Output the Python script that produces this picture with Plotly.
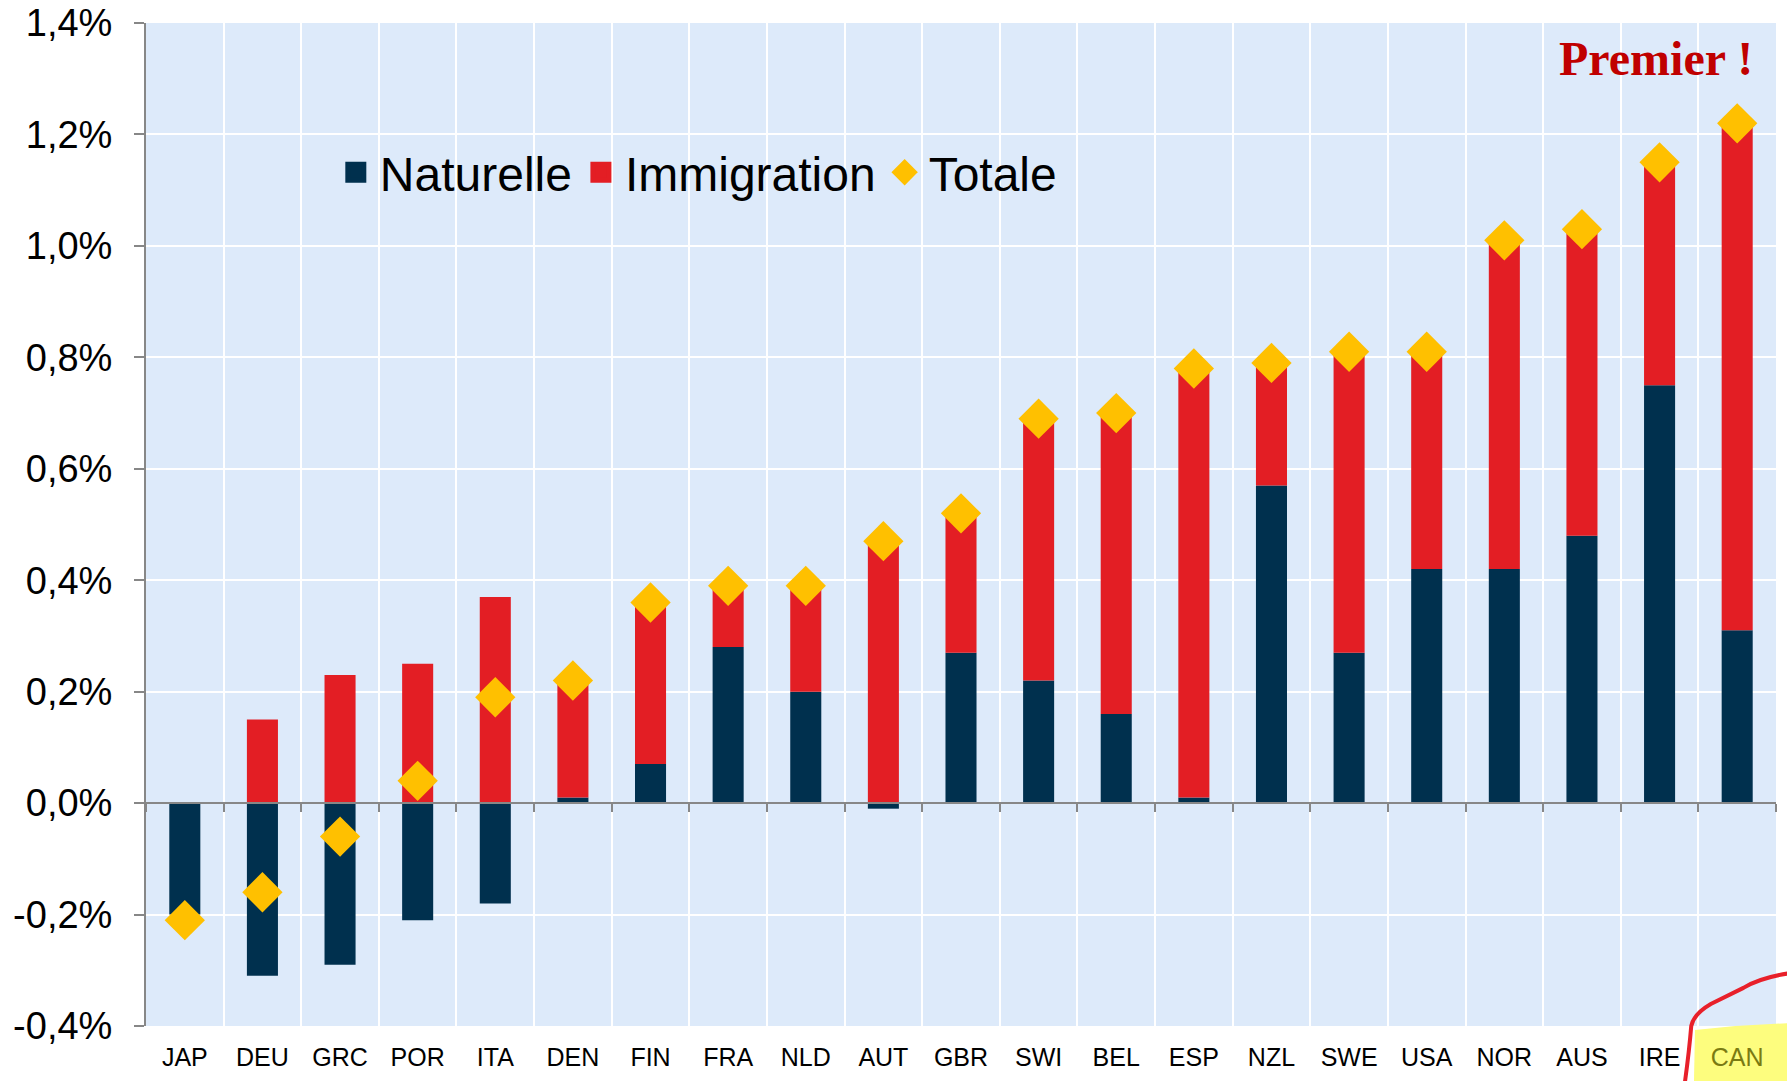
import plotly.graph_objects as go

countries = ["JAP", "DEU", "GRC", "POR", "ITA", "DEN", "FIN", "FRA", "NLD", "AUT", "GBR",
             "SWI", "BEL", "ESP", "NZL", "SWE", "USA", "NOR", "AUS", "IRE", "CAN"]
naturelle = [-0.20, -0.31, -0.29, -0.21, -0.18, 0.01, 0.07, 0.28, 0.20, -0.01, 0.27,
             0.22, 0.16, 0.01, 0.57, 0.27, 0.42, 0.42, 0.48, 0.75, 0.31]
immigration = [0.00, 0.15, 0.23, 0.25, 0.37, 0.21, 0.29, 0.11, 0.19, 0.47, 0.25,
               0.47, 0.54, 0.77, 0.22, 0.54, 0.39, 0.59, 0.55, 0.40, 0.91]
totale = [-0.21, -0.16, -0.06, 0.04, 0.19, 0.22, 0.36, 0.39, 0.39, 0.47, 0.52,
          0.69, 0.70, 0.78, 0.79, 0.81, 0.81, 1.01, 1.03, 1.15, 1.22]
y_tickvals = [-0.4, -0.2, 0.0, 0.2, 0.4, 0.6, 0.8, 1.0, 1.2, 1.4]
y_ticktext = ["-0,4%", "-0,2%", "0,0%", "0,2%", "0,4%", "0,6%", "0,8%", "1,0%", "1,2%", "1,4%"]
x_ticktext = [c if c != "CAN" else '<span style="color:#7a7a12">CAN</span>' for c in countries]

NAVY = "#00304E"
RED = "#E31E24"
GOLD = "#FFC000"
BG = "#DDEAFA"
AXIS = "#878787"

fig = go.Figure()
fig.add_trace(go.Bar(x=countries, y=naturelle, marker=dict(color=NAVY, line=dict(width=0)),
                     showlegend=False, name="Naturelle"))
fig.add_trace(go.Bar(x=countries, y=immigration, marker=dict(color=RED, line=dict(width=0)),
                     showlegend=False, name="Immigration"))
fig.add_trace(go.Scatter(x=countries, y=totale, mode="markers", xaxis="x2", yaxis="y",
                         marker=dict(symbol="diamond", size=31, color=GOLD, line=dict(width=0)),
                         showlegend=False, name="Totale"))
# legend entries
fig.add_trace(go.Scatter(x=[None], y=[None], mode="markers", name="Naturelle",
                         marker=dict(symbol="square", size=16, color=NAVY,
                                     line=dict(width=5, color=NAVY))))
fig.add_trace(go.Scatter(x=[None], y=[None], mode="markers", name="Immigration",
                         marker=dict(symbol="square", size=16, color=RED,
                                     line=dict(width=5, color=RED))))
fig.add_trace(go.Scatter(x=[None], y=[None], mode="markers", name="Totale",
                         marker=dict(symbol="diamond", size=16, color=GOLD,
                                     line=dict(width=4, color=GOLD))))

n = len(countries)
fig.update_layout(
    width=1787, height=1081,
    margin=dict(l=146, r=11, t=23, b=55),
    paper_bgcolor="white",
    plot_bgcolor=BG,
    barmode="relative",
    bargap=0.6,
    font=dict(family="Liberation Sans, Arial, sans-serif", color="black"),
    xaxis=dict(
        type="category", categoryorder="array", categoryarray=countries,
        range=[-0.5, n - 0.5], autorange=False, automargin=False,
        tickvals=countries, ticktext=x_ticktext,
        tickson="boundaries", ticks="", showgrid=True, gridcolor="white", gridwidth=2,
        showline=False, zeroline=False,
        tickfont=dict(size=25, color="black"),
        ticklabelstandoff=14, ticklabeloverflow="allow",
    ),
    xaxis2=dict(
        type="category", matches="x", overlaying="x", anchor="free", position=0.4 / 1.8,
        automargin=False,
        tickson="boundaries", ticks="outside", ticklen=8, tickwidth=2, tickcolor=AXIS,
        showticklabels=False, showgrid=False, showline=True, linecolor=AXIS, linewidth=2,
        zeroline=False,
    ),
    yaxis=dict(
        range=[-0.4, 1.4], autorange=False, automargin=False,
        tickvals=y_tickvals, ticktext=y_ticktext,
        showgrid=True, gridcolor="white", gridwidth=2,
        zeroline=False, showline=True, linecolor=AXIS, linewidth=2,
        ticks="outside", ticklen=10, tickwidth=2, tickcolor=AXIS,
        tickfont=dict(size=38, color="black"),
        ticklabelstandoff=14, ticklabeloverflow="allow",
    ),
    legend=dict(
        orientation="h", x=0.114, y=0.851, xanchor="left", yanchor="middle",
        bgcolor="rgba(0,0,0,0)",
        font=dict(family="Liberation Sans, Arial, sans-serif", size=48),
        itemwidth=38,
    ),
    shapes=[
        dict(type="path", xref="paper", yref="paper", layer="below",
             path="M 0.9503,-0.004 L 0.975,0.000 L 1.02,0.004 L 1.02,-0.07 L 0.9495,-0.07 Z",
             fillcolor="#FDFD7E", line=dict(width=0)),
        dict(type="path", xref="paper", yref="paper", layer="above",
             path="M 0.9429,-0.070 Q 0.9465,-0.030 0.9480,0.000 Q 0.9495,0.012 0.9600,0.022 "
                  "L 0.9800,0.038 Q 0.9920,0.050 1.0150,0.054",
             line=dict(color="#E8202A", width=4)),
    ],
    annotations=[
        dict(text="<b>Premier !</b>", xref="paper", yref="paper", x=0.9265, y=0.965,
             xanchor="center", yanchor="middle", showarrow=False,
             font=dict(family="Liberation Serif, Times New Roman, serif", size=48, color="#C00000")),
    ],
)

fig.write_html("out.html", config={"displayModeBar": False},
               post_script="document.body.style.margin='0';document.body.style.overflow='hidden';")
